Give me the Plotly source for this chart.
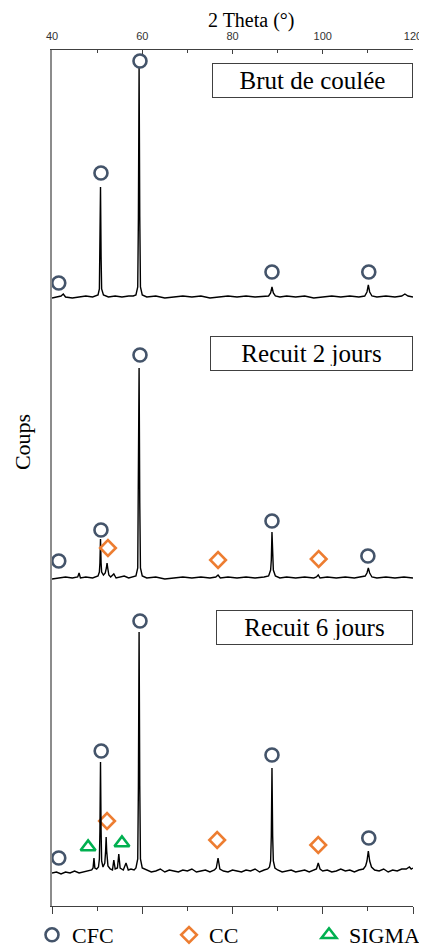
import plotly.graph_objects as go

# --- diffractograms (2 theta in degrees, counts in arbitrary units above each baseline) ---
BRUT_2THETA = [
    40.0, 41.0, 42.0, 42.5, 43.0, 44.5, 46.0, 47.5, 49.0,
    50.2, 50.5, 50.62, 50.75, 50.88, 51.0, 51.4,
    52.5, 54.0, 55.5, 57.0, 58.0,
    58.6, 59.0, 59.15, 59.3, 59.45, 59.6, 60.0,
    61, 63, 65, 67, 69, 71, 73, 75, 77, 79, 81, 83, 85, 87,
    88.0, 88.45, 88.75, 89.05, 89.5,
    90.5, 92, 94, 96, 98, 100, 102, 104, 106, 108,
    109.3, 109.8, 110.1, 110.4, 110.9,
    112, 114, 116, 117.5, 118.2, 118.9, 120.0,
]
BRUT_COUNTS = [
    -1, 0, 1, 3, 0, -1, 0, 1, 0,
    2, 8, 40, 110, 40, 8, 2,
    0, 1, 0, 1, 1,
    2, 10, 80, 229, 80, 10, 2,
    0, 1, -1, 0, 1, 0, 1, -1, 0, 1, 0, 1, 0, 1,
    1, 4, 10, 4, 1,
    0, 1, 0, 1, -1, 0, 1, 0, 1, 0,
    1, 5, 12, 5, 1,
    0, 1, 0, 1, 3, 1, 0,
]

J2_2THETA = [
    40.0, 41.5, 43.0, 44.5, 45.7, 46.0, 46.3, 47.5, 49.0,
    50.2, 50.5, 50.62, 50.75, 50.88, 51.0, 51.4, 51.8, 52.05, 52.2, 52.35, 52.6,
    53.0, 53.7, 54.2, 55.0, 56.0, 57.0, 58.0,
    58.6, 59.0, 59.15, 59.3, 59.45, 59.6, 60.0,
    61, 63, 65, 67, 69, 71, 73, 75,
    76.3, 76.8, 77.3,
    79, 81, 83, 85, 87,
    88.0, 88.45, 88.6, 88.75, 88.9, 89.05, 89.5,
    90.5, 92, 94, 96, 98,
    98.6, 99.0, 99.4,
    101, 103, 105, 107, 108.5,
    109.4, 109.8, 110.1, 110.4, 110.9,
    112, 114, 116, 118, 120,
]
J2_COUNTS = [
    -1, 0, 1, 0, 1, 5, 0, 1, 0,
    2, 6, 15, 39, 15, 6, 3, 5, 10, 15, 10, 3,
    1, 4, 0, 1, 2, 0, 1,
    2, 10, 75, 210, 75, 10, 2,
    0, 1, -1, 0, 1, 0, 1, 0,
    1, 3, 0,
    1, 0, 1, 0, 1,
    2, 8, 18, 46, 18, 8, 2,
    0, 1, 0, 1, 0,
    1, 3, 0,
    1, 0, 1, 0, 1,
    2, 5, 10, 5, 1,
    0, 1, 0, 1, 0,
]

J6_2THETA = [
    40.0, 41.0, 42.0, 43.0, 44.0, 45.0, 46.0, 47.0, 48.0, 48.8,
    49.1, 49.3, 49.5, 49.9, 50.3, 50.5, 50.62, 50.75, 50.88, 51.0, 51.3, 51.7, 51.88, 52.0, 52.12, 52.4,
    52.9, 53.4, 53.7, 54.0, 54.5, 54.8, 55.1, 55.8, 56.4, 56.9, 57.5, 58.2,
    58.6, 59.0, 59.15, 59.3, 59.45, 59.6, 60.0,
    61, 62, 63, 64, 65, 66, 67, 68, 69, 70, 71, 72, 73, 74, 75, 76,
    76.4, 76.8, 77.2,
    78, 79, 80, 81, 82, 83, 84, 85, 86, 87, 87.8,
    88.2, 88.45, 88.6, 88.75, 88.9, 89.05, 89.4,
    90, 91, 92, 93, 94, 95, 96, 97, 98,
    98.6, 99.0, 99.4,
    100, 101, 102, 103, 104, 105, 106, 107, 108, 109,
    109.5, 109.8, 110.1, 110.4, 110.8,
    111.5, 112.5, 113.5, 114.5, 115.5, 116.5, 117.5, 118.5, 119.2, 119.6, 120.0,
]
J6_COUNTS = [
    -2, -1, -3, -1, -2, 0, -2, -1, 0, 1,
    3, 13, 3, 2, 4, 12, 40, 109, 40, 10, 4, 8, 20, 34, 20, 5,
    2, 1, 11, 2, 3, 17, 3, 1, 8, 1, 2, 1,
    3, 12, 85, 239, 85, 12, 3,
    1, -1, 0, 2, -1, 1, 0, -1, 1, 0, 2, -1, 0, 1, -1, 1,
    3, 13, 2,
    0, -1, 1, 0, -1, 1, 0, 2, -1, 1, 2,
    4, 10, 35, 103, 35, 10, 3,
    1, -1, 0, 1, -1, 0, 1, -1, 1,
    2, 8, 2,
    0, 1, -1, 0, 2, 0, 1, -1, 1, 2,
    5, 10, 20, 10, 4,
    1, 0, 2, -1, 1, 0, 2, 2, 4, 2, 3,
]

# --- phase identification marks (2 theta, counts above baseline) ---
BRUT_CFC_2THETA = [41.5, 50.85, 59.5, 88.75, 110.2]
BRUT_CFC_COUNTS = [14, 124, 236, 25, 25]

J2_CFC_2THETA = [41.5, 50.85, 59.5, 88.75, 110.0]
J2_CFC_COUNTS = [17, 48, 223, 57, 22]
J2_CC_2THETA = [52.4, 76.8, 99.1]
J2_CC_COUNTS = [30, 18, 19]

J6_CFC_2THETA = [41.5, 50.9, 59.5, 88.75, 110.2]
J6_CFC_COUNTS = [13, 120, 250, 116, 33]
J6_CC_2THETA = [52.2, 76.6, 99.0]
J6_CC_COUNTS = [50, 31, 26]
J6_SIGMA_2THETA = [48.0, 55.5]
J6_SIGMA_COUNTS = [24, 28]

LABELS = ["Brut de coulée", "Recuit 2 jours", "Recuit 6 jours"]

# vertical stacking of the three patterns
OFF_BRUT, OFF_J2, OFF_J6 = 609, 328, 35

SERIF = "Liberation Serif"
C_CFC, C_CC, C_SIGMA = "#44546A", "#ED7D31", "#00B050"


def shift(vals, off):
    return [v + off for v in vals]


fig = go.Figure()
for xs, ys, off, ax in [(BRUT_2THETA, BRUT_COUNTS, OFF_BRUT, "x"),
                        (J2_2THETA, J2_COUNTS, OFF_J2, "x"),
                        (J6_2THETA, J6_COUNTS, OFF_J6, "x2")]:
    fig.add_trace(go.Scatter(x=xs, y=shift(ys, off), xaxis=ax, mode="lines",
                             line=dict(color="black", width=1.4), showlegend=False,
                             hoverinfo="skip"))

fig.add_trace(go.Scatter(
    x=BRUT_CFC_2THETA + J2_CFC_2THETA + J6_CFC_2THETA,
    y=shift(BRUT_CFC_COUNTS, OFF_BRUT) + shift(J2_CFC_COUNTS, OFF_J2) + shift(J6_CFC_COUNTS, OFF_J6),
    mode="markers", name="CFC", legend="legend",
    marker=dict(symbol="circle-open", size=13, color=C_CFC, line=dict(width=2.6))))
fig.add_trace(go.Scatter(
    x=J2_CC_2THETA + J6_CC_2THETA,
    y=shift(J2_CC_COUNTS, OFF_J2) + shift(J6_CC_COUNTS, OFF_J6),
    mode="markers", name="CC", legend="legend2",
    marker=dict(symbol="diamond-open", size=12, color=C_CC, line=dict(width=2.6))))
fig.add_trace(go.Scatter(
    x=J6_SIGMA_2THETA, y=shift(J6_SIGMA_COUNTS, OFF_J6),
    mode="markers", name="SIGMA", legend="legend3",
    marker=dict(symbol="triangle-up-open", size=13, color=C_SIGMA, line=dict(width=2.6))))

# sample labels in boxes
for label, ypos, w in zip(LABELS, [0.9644, 0.6454, 0.3259], [191, 193, 187]):
    fig.add_annotation(text=label, xref="paper", yref="paper", x=1.0, y=ypos,
                       xanchor="right", yanchor="middle", showarrow=False,
                       width=w, height=25, borderpad=4, borderwidth=1,
                       bordercolor="#404040", bgcolor="white",
                       font=dict(family=SERIF, size=25, color="black"))

fig.add_annotation(text="2 Theta (°)", xref="paper", yref="paper", x=0.551, y=1.035,
                   xanchor="center", yanchor="middle", showarrow=False,
                   font=dict(family=SERIF, size=20, color="black"))
fig.add_annotation(text="Coups", xref="paper", yref="paper", x=-0.0831, y=0.542,
                   xanchor="center", yanchor="middle", textangle=-90, showarrow=False,
                   font=dict(family=SERIF, size=22, color="black"))

legend_style = dict(orientation="h", y=-0.0339, xanchor="left", yanchor="middle",
                    bgcolor="rgba(0,0,0,0)", font=dict(family=SERIF, size=22, color="black"))

# the page body adds an 8 px margin, so the figure is 8 px smaller than the window
fig.update_layout(
    width=419, height=942,
    margin=dict(l=44, r=14, t=42, b=44, autoexpand=False),
    plot_bgcolor="white", paper_bgcolor="white",
    xaxis=dict(range=[40, 120], side="top", tickvals=[40, 60, 80, 100, 120],
               ticks="inside", ticklen=4, tickcolor="#404040",
               minor=dict(tickvals=[50, 70, 90, 110], ticks="inside", ticklen=3,
                          tickcolor="#404040"),
               showline=True, linecolor="#404040", linewidth=1, showgrid=False,
               zeroline=False, ticklabelstandoff=5,
               tickfont=dict(family="Liberation Sans", size=11, color="#333333")),
    xaxis2=dict(range=[40, 120], overlaying="x", side="bottom", anchor="y",
                tickvals=[40, 60, 80, 100, 120], ticks="outside", ticklen=7,
                tickcolor="#404040", showticklabels=False,
                minor=dict(tickvals=[50, 70, 90, 110], ticks="outside", ticklen=4,
                           tickcolor="#404040"),
                showline=True, linecolor="#404040", linewidth=1, showgrid=False,
                zeroline=False),
    yaxis=dict(range=[0, 856], showline=True, linecolor="#8c8c8c", linewidth=1.5,
               showticklabels=False, ticks="", showgrid=False, zeroline=False),
    legend=dict(x=-0.0554, **legend_style),
    legend2=dict(x=0.3241, **legend_style),
    legend3=dict(x=0.7119, **legend_style),
)

fig.write_html("out.html")
